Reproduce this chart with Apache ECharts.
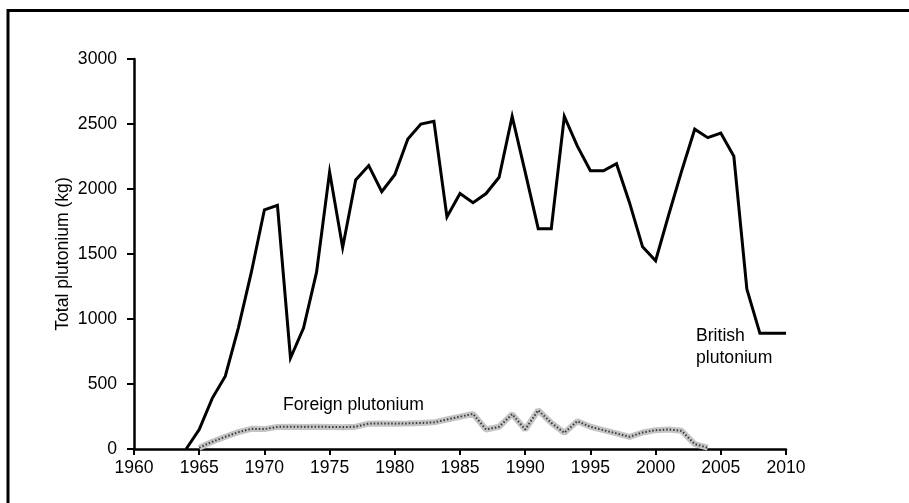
<!DOCTYPE html>
<html>
<head>
<meta charset="utf-8">
<style>
  html, body { margin: 0; padding: 0; background: #fff; }
  #chart { width: 909px; height: 503px; }
</style>
<script src="https://cdn.jsdelivr.net/npm/echarts@6/dist/echarts.min.js"></script>
</head>
<body>
<div id="chart"></div>
<script>
// years for the british series
const britishYears = [
  1964, 1965, 1966, 1967, 1968, 1969, 1970, 1971, 1972, 1973, 1974, 1975,
  1976, 1977, 1978, 1979, 1980, 1981, 1982, 1983, 1984, 1985, 1986, 1987,
  1988, 1989, 1990, 1991, 1992, 1993, 1994, 1995, 1996, 1997, 1998, 1999,
  2000, 2001, 2002, 2003, 2004, 2005, 2006, 2007, 2008, 2009, 2010
];
const britishKg = [
  0, 150, 390, 560, 930, 1360, 1840, 1875, 700, 930, 1360, 2130,
  1550, 2070, 2180, 1980, 2110, 2385, 2500, 2520, 1785, 1965, 1895, 1965,
  2090, 2558, 2130, 1695, 1695, 2558, 2330, 2140, 2140, 2195, 1895, 1555,
  1448, 1800, 2140, 2460, 2395, 2430, 2252, 1230, 890, 890, 890
];

const foreignYears = [
  1965, 1966, 1967, 1968, 1969, 1970, 1971, 1972, 1973, 1974, 1975, 1976,
  1977, 1978, 1979, 1980, 1981, 1982, 1983, 1984, 1985, 1986, 1987, 1988,
  1989, 1990, 1991, 1992, 1993, 1994, 1995, 1996, 1997, 1998, 1999, 2000,
  2001, 2002, 2003, 2004
];
const foreignKg = [
  10, 56, 94, 130, 155, 153, 170, 172, 170, 172, 170, 168,
  172, 195, 197, 195, 197, 200, 205, 227, 248, 270, 150, 171,
  268, 150, 298, 201, 125, 214, 171, 145, 120, 94, 127, 145,
  150, 140, 38, 10
];

const xTicks = { min: 1960, max: 2010, step: 5 };
const yTicks = { min: 0, max: 3000, step: 500 };

const FONT = 'Liberation Sans, Arial, sans-serif';
const FS = 17.6;

const chart = echarts.init(document.getElementById('chart'));

const britishData = britishYears.map((y, i) => [y, britishKg[i]]);
const foreignData = foreignYears.map((y, i) => [y, foreignKg[i]]);

chart.setOption({
  animation: false,
  backgroundColor: '#fff',
  grid: {
    left: 134,
    right: 123,
    top: 59,
    bottom: 54
  },
  xAxis: {
    type: 'value',
    min: xTicks.min,
    max: xTicks.max,
    interval: xTicks.step,
    axisLine: { onZero: false, lineStyle: { color: '#000', width: 2.5 } },
    axisTick: { show: true, inside: false, length: 6, lineStyle: { color: '#000', width: 2 } },
    axisLabel: {
      color: '#000',
      fontFamily: FONT,
      fontSize: FS,
      margin: 10,
      formatter: v => String(v)
    },
    splitLine: { show: false }
  },
  yAxis: {
    type: 'value',
    min: yTicks.min,
    max: yTicks.max,
    interval: yTicks.step,
    name: 'Total plutonium (kg)',
    nameLocation: 'middle',
    nameGap: 62,
    nameMoveOverlap: false,
    nameTextStyle: { color: '#000', fontFamily: FONT, fontSize: FS },
    axisLine: { show: true, lineStyle: { color: '#000', width: 2.5 } },
    axisTick: { show: true, inside: false, length: 7, lineStyle: { color: '#000', width: 2 } },
    axisLabel: {
      color: '#000',
      fontFamily: FONT,
      fontSize: FS,
      margin: 17,
      formatter: v => String(v)
    },
    splitLine: { show: false }
  },
  series: [
    {
      // grey band under the dotted foreign line
      name: 'Foreign plutonium',
      type: 'line',
      data: foreignData,
      showSymbol: false,
      lineStyle: { color: '#c4c4c4', width: 6 },
      z: 2
    },
    {
      name: 'Foreign plutonium dots',
      type: 'line',
      data: foreignData,
      showSymbol: false,
      lineStyle: { color: '#3a3a3a', width: 2, type: [1.5, 2] },
      z: 3
    },
    {
      name: 'British plutonium',
      type: 'line',
      data: britishData,
      showSymbol: false,
      lineStyle: { color: '#000', width: 3, join: 'miter' },
      z: 4
    }
  ],
  graphic: [
    {
      type: 'rect',
      shape: { x: 8, y: 10.5, width: 1200, height: 1200 },
      style: { fill: 'none', stroke: '#000', lineWidth: 3 },
      silent: true
    },
    {
      type: 'text',
      left: 283,
      top: 396,
      style: { text: 'Foreign plutonium', fill: '#000', font: FS + 'px ' + FONT }
    },
    {
      type: 'text',
      left: 696,
      top: 325,
      style: { text: 'British\nplutonium', fill: '#000', font: FS + 'px ' + FONT, lineHeight: 22 }
    }
  ]
});
</script>
</body>
</html>
